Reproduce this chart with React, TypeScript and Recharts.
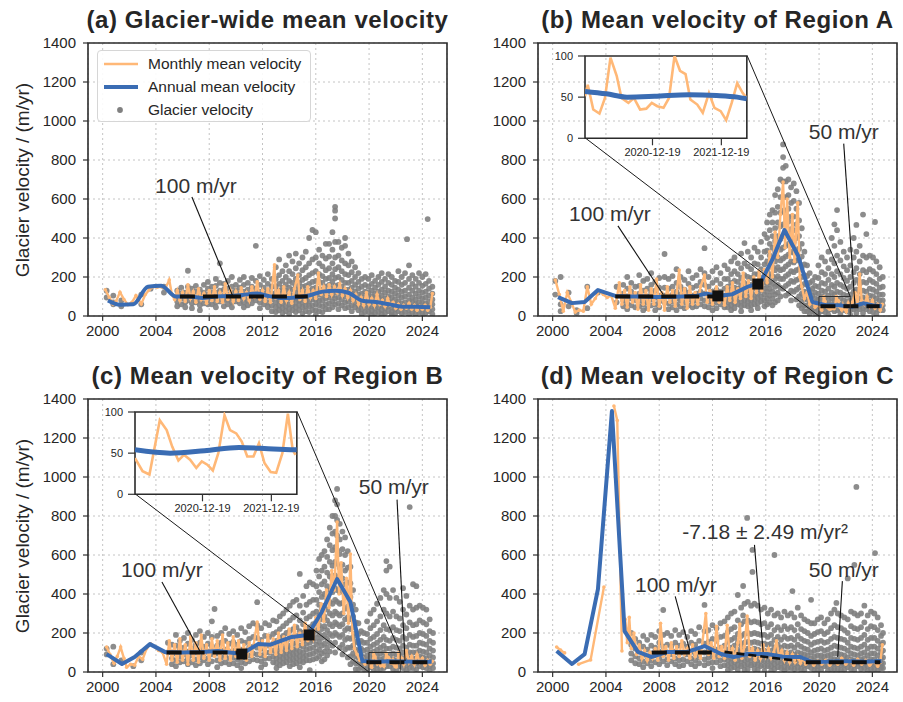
import React from 'react';
import {
  ComposedChart,
  LineChart,
  Line,
  Scatter,
  XAxis,
  YAxis,
  CartesianGrid,
  ReferenceLine,
  ReferenceArea,
  ReferenceDot,
} from 'recharts';

const FONT = '"Liberation Sans", Arial, Helvetica, sans-serif';
const ORANGE = '#ffb877';
const BLUE = '#3a6cb3';
const GRAY = '#808080';
const INK = '#262626';

const X_TICKS = [2000, 2004, 2008, 2012, 2016, 2020, 2024];
const Y_TICKS = [0, 200, 400, 600, 800, 1000, 1200, 1400];
const INSET_TICKS = [2020.97, 2021.97];
const INSET_TICK_LABELS = ['2020-12-19', '2021-12-19'];
const INSET_Y_TICKS = [0, 50, 100];

// main axes
const X0 = 1998.9;
const X1 = 2025.85;
const YMAX = 1400;
// zoomed window shown in the insets
const Z0 = 2019.99;
const Z1 = 2022.34;
const ZMAX = 100;
// where the inset sits, in main-axis data units
const INSET_AT = { t0: 2002.45, t1: 2014.6, v0: 913, v1: 1335 };

// glacier velocity dots: [date, values...]
const GLACIER_A = [
  [2000.3, 130, 95], [2000.8, 70, 105, 60], [2001.4, 50, 80], [2002.9, 110, 60], [2003.6, 140], [2004.6, 150, 120],
  [2005.6, 130, 100, 75, 50], [2005.9, 145, 115, 90, 60], [2006.2, 120, 95, 70, 45], [2006.4, 232, 150, 110, 80],
  [2006.7, 140, 115, 90, 65, 40], [2007.0, 155, 125, 95, 70], [2007.3, 135, 105, 80, 55, 30], [2007.6, 160, 120, 95, 65],
  [2007.9, 175, 140, 110, 85, 60], [2008.2, 150, 120, 90, 60], [2008.5, 190, 155, 120, 95, 70, 45],
  [2008.8, 270, 170, 130, 100, 75], [2009.1, 165, 135, 105, 80, 50], [2009.4, 180, 140, 110, 85, 60],
  [2009.7, 200, 150, 120, 95, 70, 45], [2010.0, 160, 130, 100, 75], [2010.3, 185, 145, 115, 90, 65],
  [2010.6, 200, 160, 125, 95, 70, 45], [2010.9, 170, 135, 105, 80, 55], [2011.2, 195, 150, 120, 90, 65],
  [2011.5, 360, 180, 140, 110, 80], [2011.8, 205, 160, 125, 95, 70, 40], [2012.1, 185, 145, 115, 85, 60],
  [2012.4, 215, 165, 130, 100, 70, 45], [2012.7, 190, 150, 115, 85, 55, 25],
  [2013.0, 250, 190, 150, 120, 95, 70, 45, 20], [2013.25, 290, 210, 165, 130, 105, 80, 55, 30],
  [2013.5, 230, 180, 145, 115, 90, 65, 40, 15], [2013.75, 260, 200, 160, 130, 100, 75, 50, 25],
  [2014.0, 310, 230, 180, 145, 115, 90, 60, 35, 10], [2014.25, 280, 215, 170, 135, 105, 80, 55, 30],
  [2014.5, 320, 245, 190, 150, 120, 95, 70, 45, 20], [2014.75, 270, 210, 170, 135, 105, 80, 55, 30],
  [2015.0, 300, 235, 185, 150, 120, 95, 70, 45, 15], [2015.25, 330, 250, 195, 155, 125, 100, 75, 50, 25],
  [2015.5, 400, 270, 210, 165, 130, 100, 75, 50, 20], [2015.75, 441, 290, 220, 175, 140, 110, 85, 55, 30],
  [2016.0, 430, 300, 230, 180, 145, 115, 85, 60, 30, 5], [2016.25, 340, 270, 215, 175, 140, 110, 80, 55, 25],
  [2016.5, 310, 255, 205, 170, 135, 105, 80, 50, 20], [2016.75, 370, 295, 235, 190, 150, 120, 90, 60, 35],
  [2017.0, 370, 305, 245, 195, 160, 125, 95, 65, 35], [2017.25, 430, 340, 270, 215, 175, 140, 105, 75, 45],
  [2017.45, 560, 540, 500, 380, 300, 240, 195, 155, 120, 90, 60], [2017.7, 380, 310, 250, 200, 160, 125, 95, 65, 35],
  [2017.95, 350, 285, 230, 185, 150, 115, 85, 55], [2018.2, 400, 360, 270, 215, 170, 135, 100, 70, 40],
  [2018.45, 320, 260, 210, 170, 135, 105, 75, 45], [2018.7, 280, 225, 180, 145, 115, 85, 55, 25],
  [2018.95, 250, 200, 160, 125, 95, 70, 45], [2019.2, 220, 175, 140, 110, 80, 55, 30],
  [2019.45, 190, 150, 115, 85, 60, 35, 10], [2019.7, 200, 160, 125, 95, 70, 45, 20],
  [2019.95, 190, 150, 120, 95, 70, 45, 20], [2020.2, 210, 165, 130, 100, 75, 50, 25, 5],
  [2020.45, 180, 145, 115, 90, 65, 40, 15], [2020.7, 200, 160, 125, 95, 70, 45, 20],
  [2020.95, 220, 175, 135, 105, 80, 55, 30, 10], [2021.2, 190, 150, 120, 90, 65, 40, 15],
  [2021.45, 215, 170, 130, 100, 75, 50, 25], [2021.7, 200, 160, 125, 95, 70, 45, 20, 5],
  [2021.95, 180, 145, 115, 85, 60, 35, 10], [2022.2, 230, 175, 135, 105, 75, 50, 25],
  [2022.45, 200, 160, 125, 95, 65, 40, 15], [2022.7, 220, 170, 130, 100, 70, 45, 20], [2022.85, 394],
  [2023.0, 260, 190, 145, 110, 80, 55, 30, 5], [2023.25, 210, 165, 130, 95, 70, 45, 20],
  [2023.5, 190, 150, 115, 85, 60, 35, 10], [2023.75, 220, 170, 130, 100, 70, 45, 20],
  [2024.0, 200, 155, 120, 90, 65, 40, 15], [2024.25, 215, 165, 125, 95, 65, 40, 15], [2024.4, 497],
  [2024.5, 180, 140, 105, 75, 50, 25], [2024.75, 150, 115, 85, 60, 35, 10],
];

const GLACIER_B = [
  [2000.2, 180, 110], [2000.6, 200, 60, 25], [2001.2, 120, 50], [2001.8, 30, 15], [2002.6, 150, 40], [2003.4, 120],
  [2004.8, 150, 70], [2005.3, 160, 115, 80, 50], [2005.6, 200, 140, 100, 65, 35], [2005.9, 170, 125, 90, 55],
  [2006.2, 150, 110, 80, 45], [2006.5, 210, 155, 115, 80, 50], [2006.8, 180, 130, 95, 60, 30],
  [2007.1, 190, 140, 100, 70, 40], [2007.4, 220, 160, 120, 85, 55], [2007.7, 175, 130, 95, 60, 30],
  [2008.0, 195, 145, 105, 75, 45], [2008.4, 318, 200, 145, 105, 70], [2008.7, 190, 140, 100, 65, 35],
  [2009.0, 205, 150, 110, 75, 45], [2009.3, 240, 170, 125, 90, 60, 30], [2009.6, 200, 150, 110, 80, 50],
  [2009.9, 185, 135, 100, 70, 40], [2010.2, 230, 165, 120, 85, 55], [2010.5, 195, 145, 105, 75, 45],
  [2010.8, 210, 155, 115, 80, 50], [2011.1, 240, 175, 125, 90, 60], [2011.4, 348, 220, 160, 115, 80, 50],
  [2011.7, 200, 150, 110, 75, 45], [2012.0, 230, 170, 125, 90, 60, 30], [2012.3, 250, 185, 135, 100, 70, 40],
  [2012.6, 220, 165, 125, 90, 60], [2012.9, 260, 190, 140, 105, 75, 45],
  [2013.15, 240, 190, 150, 120, 95, 70, 45], [2013.4, 280, 215, 170, 135, 105, 80, 55, 30],
  [2013.65, 300, 230, 180, 145, 115, 90, 65, 40], [2013.9, 270, 215, 175, 140, 110, 85, 60],
  [2014.15, 320, 245, 195, 155, 125, 100, 75, 50, 25], [2014.4, 374, 270, 210, 170, 135, 105, 80, 55],
  [2014.65, 330, 255, 200, 160, 130, 100, 75, 50], [2014.9, 300, 240, 195, 160, 130, 105, 80, 55, 30],
  [2015.15, 350, 270, 215, 175, 140, 110, 85, 60], [2015.4, 330, 265, 215, 175, 145, 115, 90, 65, 40],
  [2015.65, 380, 300, 240, 195, 160, 130, 100, 75], [2015.9, 420, 330, 265, 215, 175, 140, 110, 80, 50],
  [2016.1, 480, 400, 335, 280, 235, 195, 160, 125, 90, 60], [2016.3, 520, 440, 370, 310, 260, 215, 175, 140, 105, 70],
  [2016.5, 543, 480, 410, 350, 295, 250, 205, 165, 125, 90, 55],
  [2016.7, 620, 530, 450, 385, 330, 280, 235, 190, 150, 110, 70],
  [2016.9, 650, 560, 480, 410, 350, 300, 250, 205, 160, 120, 80],
  [2017.1, 700, 610, 530, 460, 395, 340, 285, 235, 190, 145, 100],
  [2017.3, 880, 815, 760, 690, 610, 540, 470, 410, 350, 295, 240, 190, 140],
  [2017.5, 770, 690, 610, 540, 475, 415, 360, 305, 255, 205, 155, 105],
  [2017.7, 700, 620, 550, 485, 425, 370, 315, 265, 215, 165, 115],
  [2017.9, 660, 580, 510, 445, 385, 330, 280, 230, 180, 130, 80],
  [2018.1, 680, 590, 510, 440, 380, 325, 275, 225, 175, 125],
  [2018.3, 640, 550, 470, 400, 340, 285, 235, 185, 135, 85],
  [2018.5, 580, 490, 410, 345, 290, 240, 190, 145, 100, 55], [2018.7, 450, 370, 305, 250, 200, 155, 115, 75, 40],
  [2018.9, 330, 265, 210, 165, 125, 90, 55, 25], [2019.1, 260, 205, 160, 120, 85, 55, 25],
  [2019.3, 220, 170, 130, 95, 65, 35, 10], [2019.5, 180, 140, 105, 75, 50, 25],
  [2019.7, 200, 155, 120, 90, 65, 40, 15], [2019.95, 260, 195, 150, 115, 85, 60, 35, 10],
  [2020.2, 300, 225, 170, 130, 100, 75, 50, 25], [2020.45, 280, 215, 165, 125, 95, 70, 45, 20],
  [2020.7, 330, 245, 185, 140, 105, 80, 55, 30, 5], [2020.95, 400, 290, 215, 160, 120, 90, 60, 35],
  [2021.15, 470, 360, 270, 200, 150, 110, 80, 50, 25], [2021.35, 543, 440, 310, 230, 170, 125, 90, 60, 30],
  [2021.6, 380, 285, 215, 160, 120, 90, 60, 35, 10], [2021.85, 330, 255, 195, 150, 110, 80, 55, 30],
  [2022.1, 300, 235, 180, 140, 105, 75, 50, 25], [2022.35, 340, 260, 200, 150, 110, 80, 55, 30, 5],
  [2022.6, 400, 300, 225, 170, 125, 90, 60, 35], [2022.8, 467, 330, 245, 185, 135, 95, 65, 40, 15],
  [2023.05, 360, 280, 215, 165, 125, 90, 60, 35], [2023.3, 520, 310, 235, 175, 130, 95, 65, 40, 15],
  [2023.55, 420, 300, 225, 170, 125, 90, 60, 35], [2023.8, 310, 240, 185, 140, 105, 75, 50, 25],
  [2024.05, 300, 230, 175, 135, 100, 70, 45, 20], [2024.2, 482], [2024.3, 280, 215, 165, 125, 90, 60, 35, 10],
  [2024.55, 250, 190, 145, 110, 80, 55, 30], [2024.78, 200, 150, 110, 80, 55, 30],
];

const GLACIER_C = [
  [2000.3, 120, 90], [2000.8, 130, 40], [2001.4, 60], [2002.3, 30], [2002.9, 100, 60], [2004.9, 150, 100],
  [2005.2, 140, 100, 70, 40], [2005.5, 190, 135, 95, 60, 30], [2005.8, 160, 115, 80, 50], [2006.1, 175, 125, 90, 55],
  [2006.4, 200, 145, 105, 70, 40], [2006.7, 165, 120, 85, 50], [2007.0, 190, 140, 100, 65, 35],
  [2007.3, 210, 150, 110, 75, 45], [2007.6, 180, 130, 95, 60], [2007.9, 200, 145, 105, 70, 40],
  [2008.2, 260, 180, 130, 90, 55], [2008.4, 323], [2008.6, 185, 135, 95, 60, 25], [2008.9, 200, 150, 110, 75, 45],
  [2009.2, 225, 160, 115, 80, 50], [2009.5, 195, 145, 105, 70, 40], [2009.8, 210, 155, 110, 75, 45],
  [2010.1, 190, 140, 100, 65, 35], [2010.4, 225, 160, 115, 80, 50, 20], [2010.7, 205, 150, 110, 75, 45],
  [2011.0, 235, 170, 125, 85, 55], [2011.3, 250, 180, 130, 95, 65], [2011.6, 358, 240, 175, 125, 90, 60],
  [2011.9, 225, 165, 120, 85, 55, 25], [2012.2, 250, 185, 135, 100, 70, 40], [2012.5, 240, 180, 135, 100, 70],
  [2012.8, 265, 195, 145, 110, 80, 50], [2013.05, 260, 205, 160, 125, 95, 70, 45, 20],
  [2013.3, 285, 220, 175, 140, 110, 85, 60, 35], [2013.55, 300, 235, 185, 150, 120, 95, 70, 45],
  [2013.8, 320, 250, 200, 160, 130, 100, 75, 50], [2014.05, 340, 265, 210, 170, 135, 110, 85, 60, 30],
  [2014.3, 360, 280, 220, 180, 145, 115, 90, 65, 40], [2014.55, 370, 290, 230, 185, 150, 120, 95, 70, 45],
  [2014.8, 503, 340, 265, 210, 170, 135, 105, 80, 55, 25], [2015.05, 390, 305, 245, 200, 160, 130, 100, 75, 50],
  [2015.3, 440, 345, 275, 220, 180, 145, 115, 85, 60], [2015.55, 460, 360, 285, 230, 185, 150, 120, 90, 60, 10],
  [2015.8, 450, 370, 300, 245, 200, 160, 125, 95, 65], [2016.05, 520, 440, 370, 310, 260, 215, 175, 140, 105, 70],
  [2016.25, 580, 490, 410, 345, 290, 240, 195, 155, 115, 80],
  [2016.45, 600, 520, 450, 385, 325, 270, 220, 175, 135, 95, 55],
  [2016.65, 620, 540, 465, 400, 340, 285, 235, 190, 145, 105, 65],
  [2016.85, 680, 590, 510, 440, 375, 320, 265, 215, 170, 125, 85],
  [2017.05, 740, 650, 565, 490, 420, 360, 300, 245, 195, 150, 105],
  [2017.25, 800, 710, 625, 545, 475, 410, 350, 290, 235, 185, 135],
  [2017.45, 880, 800, 720, 640, 565, 495, 430, 370, 310, 255, 200, 150, 100],
  [2017.6, 939, 860, 780, 700, 625, 555, 485, 420, 360, 300, 245, 190],
  [2017.8, 760, 680, 605, 535, 470, 410, 350, 290, 235, 180, 125],
  [2018.0, 720, 630, 550, 480, 415, 355, 300, 245, 190, 140, 90],
  [2018.2, 690, 600, 520, 450, 385, 325, 270, 215, 165, 115],
  [2018.4, 620, 535, 460, 395, 335, 280, 225, 175, 125, 75],
  [2018.6, 540, 455, 385, 325, 270, 220, 170, 125, 80, 40], [2018.8, 420, 345, 285, 230, 180, 135, 95, 55],
  [2019.0, 320, 255, 200, 155, 115, 80, 45, 15], [2019.2, 250, 195, 150, 110, 75, 45, 15],
  [2019.4, 210, 160, 120, 85, 55, 25], [2019.6, 200, 150, 110, 75, 45, 15],
  [2019.85, 260, 195, 150, 115, 85, 60, 35, 10], [2020.1, 300, 225, 170, 130, 100, 75, 50, 25],
  [2020.35, 320, 240, 180, 140, 105, 80, 55, 30, 5], [2020.6, 350, 260, 195, 150, 115, 85, 60, 35, 10],
  [2020.85, 380, 285, 215, 165, 125, 95, 65, 40, 15], [2021.1, 420, 320, 240, 180, 135, 100, 70, 45, 20],
  [2021.3, 569, 520, 400, 300, 220, 165, 120, 85, 55, 30], [2021.55, 540, 380, 285, 215, 160, 120, 85, 55, 30],
  [2021.8, 420, 310, 230, 175, 130, 95, 65, 40, 15], [2022.05, 380, 285, 215, 165, 125, 90, 60, 35, 10],
  [2022.3, 360, 275, 210, 160, 120, 85, 55, 30], [2022.55, 430, 320, 240, 180, 135, 100, 70, 45, 20],
  [2022.8, 390, 295, 225, 170, 125, 90, 60, 35, 10], [2023.05, 846, 340, 255, 190, 140, 100, 70, 45, 20],
  [2023.3, 450, 320, 240, 180, 135, 100, 70, 45, 20], [2023.55, 440, 330, 245, 185, 135, 100, 70, 45, 15],
  [2023.8, 340, 265, 200, 150, 110, 80, 55, 30], [2024.05, 330, 255, 195, 145, 105, 75, 50, 25],
  [2024.3, 320, 245, 185, 140, 100, 70, 45, 20], [2024.55, 270, 210, 160, 120, 85, 55, 30, 5],
  [2024.8, 200, 150, 110, 75, 45, 20],
];

const GLACIER_D = [
  [2005.9, 200, 140, 95, 60], [2006.2, 170, 120, 80, 45], [2006.5, 150, 105, 70, 40], [2006.8, 185, 130, 90, 55, 25],
  [2007.1, 165, 115, 80, 45], [2007.4, 190, 135, 95, 60, 30], [2007.7, 180, 125, 85, 50],
  [2008.0, 210, 150, 105, 70, 40], [2008.3, 318, 190, 130, 90, 55], [2008.6, 200, 140, 100, 65, 35],
  [2008.9, 185, 130, 90, 55], [2009.2, 215, 150, 105, 70, 40], [2009.5, 190, 135, 95, 60, 30],
  [2009.8, 205, 145, 100, 65, 35], [2010.1, 180, 130, 90, 55], [2010.4, 210, 150, 105, 70, 40],
  [2010.7, 195, 140, 95, 60, 30], [2011.0, 230, 160, 110, 75, 45], [2011.4, 344, 210, 145, 100, 65, 35],
  [2011.7, 215, 155, 110, 75, 45], [2012.0, 240, 170, 120, 80, 50, 20], [2012.3, 225, 160, 115, 80, 50],
  [2012.6, 250, 180, 125, 90, 60, 30], [2012.9, 260, 185, 135, 95, 65, 35],
  [2013.15, 280, 205, 155, 115, 85, 60, 35, 10], [2013.4, 300, 220, 165, 125, 95, 70, 45, 20],
  [2013.65, 310, 230, 175, 135, 100, 75, 50, 25], [2013.9, 395, 265, 195, 150, 115, 85, 60, 35, 10],
  [2014.15, 330, 245, 185, 140, 105, 80, 55, 30], [2014.3, 441, 290], [2014.4, 350, 260, 195, 150, 115, 85, 60, 35, 10],
  [2014.6, 790], [2014.65, 360, 265, 200, 155, 120, 90, 65, 40, 15], [2014.9, 340, 255, 195, 150, 115, 85, 60, 35],
  [2015.0, 626, 513], [2015.15, 350, 260, 200, 155, 120, 90, 65, 40, 15],
  [2015.4, 340, 255, 195, 150, 115, 85, 60, 35, 10], [2015.65, 320, 245, 190, 145, 110, 80, 55, 30],
  [2015.9, 330, 250, 190, 145, 110, 80, 55, 30, 5], [2016.15, 300, 230, 180, 140, 105, 80, 55, 30],
  [2016.4, 320, 245, 190, 145, 110, 80, 55, 30, 5], [2016.65, 600, 290, 215, 165, 125, 90, 65, 40, 15],
  [2016.9, 300, 230, 180, 140, 105, 75, 50, 25], [2017.15, 280, 215, 165, 125, 95, 70, 45, 20],
  [2017.4, 310, 235, 180, 135, 100, 75, 50, 25, 5], [2017.65, 290, 220, 170, 130, 95, 70, 45, 20],
  [2017.9, 300, 230, 175, 135, 100, 70, 45, 20], [2018.0, 415], [2018.15, 280, 215, 165, 125, 90, 65, 40, 15],
  [2018.4, 330, 245, 185, 140, 100, 70, 45, 20], [2018.65, 290, 220, 170, 130, 95, 65, 40, 15],
  [2018.9, 270, 210, 160, 120, 90, 60, 35, 10], [2019.15, 260, 200, 155, 115, 85, 55, 30],
  [2019.4, 370, 250, 185, 140, 100, 70, 45, 20], [2019.65, 250, 195, 150, 110, 80, 55, 30, 5],
  [2019.9, 270, 205, 155, 115, 85, 55, 30, 10], [2020.15, 280, 210, 160, 120, 85, 60, 35, 10],
  [2020.4, 250, 195, 150, 110, 80, 55, 30], [2020.65, 270, 205, 155, 115, 85, 55, 30, 5],
  [2020.9, 300, 225, 170, 125, 90, 65, 40, 15], [2021.15, 320, 240, 180, 135, 95, 65, 40, 15], [2021.3, 354],
  [2021.4, 300, 230, 175, 130, 95, 65, 40, 15], [2021.65, 290, 225, 170, 125, 90, 60, 35, 10],
  [2021.9, 280, 215, 165, 120, 85, 60, 35, 10], [2022.15, 480, 270, 200, 150, 110, 75, 50, 25],
  [2022.4, 310, 235, 175, 130, 95, 65, 40, 15], [2022.65, 549, 300, 225, 170, 125, 90, 60, 35, 10], [2022.8, 949],
  [2022.9, 290, 220, 165, 120, 85, 55, 30], [2023.15, 300, 230, 175, 130, 95, 65, 40, 15],
  [2023.4, 340, 255, 190, 140, 100, 70, 45, 20], [2023.65, 290, 220, 165, 120, 85, 55, 30, 5],
  [2023.9, 310, 235, 175, 130, 95, 65, 40, 15], [2024.15, 300, 230, 175, 130, 95, 65, 40, 15], [2024.2, 610],
  [2024.4, 280, 215, 160, 120, 85, 55, 30, 5], [2024.65, 240, 185, 140, 100, 70, 45, 20],
  [2024.8, 200, 150, 110, 75, 45, 20],
];

// monthly mean velocity: [date, value]
const MONTHLY_A = [
  [2000.2, 135], [2000.5, 95], [2000.8, 60], [2001.0, 75], [2001.3, 122], [2001.6, 85], [2001.9, 58], [2002.2, 70],
  [2002.5, 105], [2002.9, 62], [2003.2, 110], [2003.5, 135], [2003.8, 150], [2004.1, 148], [2004.4, 150], [2004.7, 140],
  [2005.0, 185], [2005.2, 110], [2005.4, 85], [2005.6, 130], [2005.8, 80], [2006.0, 120], [2006.2, 75], [2006.4, 160],
  [2006.6, 90], [2006.8, 125], [2007.0, 70], [2007.2, 140], [2007.4, 85], [2007.6, 115], [2007.8, 65], [2008.0, 130],
  [2008.2, 80], [2008.4, 150], [2008.6, 75], [2008.8, 120], [2009.0, 70], [2009.2, 165], [2009.4, 85], [2009.6, 130],
  [2009.8, 75], [2010.0, 125], [2010.2, 80], [2010.4, 145], [2010.6, 90], [2010.8, 120], [2011.0, 80], [2011.2, 150],
  [2011.4, 95], [2011.6, 175], [2011.8, 85], [2012.0, 130], [2012.2, 75], [2012.4, 140], [2012.6, 70], [2012.9, 262],
  [2013.0, 90], [2013.2, 130], [2013.4, 70], [2013.6, 150], [2013.8, 80], [2014.0, 120], [2014.2, 65], [2014.4, 140],
  [2014.65, 210], [2014.8, 85], [2015.0, 130], [2015.2, 75], [2015.4, 150], [2015.6, 95], [2015.8, 130], [2016.0, 90],
  [2016.2, 220], [2016.4, 110], [2016.6, 150], [2016.8, 100], [2017.0, 160], [2017.2, 110], [2017.4, 150], [2017.6, 120],
  [2017.8, 165], [2018.0, 105], [2018.2, 140], [2018.4, 95], [2018.6, 130], [2018.8, 80], [2019.0, 110], [2019.2, 60],
  [2019.4, 95], [2019.6, 55], [2019.8, 120], [2020.0, 60], [2020.2, 90], [2020.4, 55], [2020.6, 110], [2020.8, 60],
  [2021.0, 80], [2021.2, 50], [2021.4, 90], [2021.6, 55], [2021.8, 70], [2022.0, 40], [2022.2, 60], [2022.4, 35],
  [2022.6, 55], [2022.8, 40], [2023.0, 65], [2023.2, 35], [2023.4, 55], [2023.6, 30], [2023.8, 50], [2024.0, 35],
  [2024.2, 55], [2024.4, 30], [2024.6, 45], [2024.75, 115],
];

const MONTHLY_B_EARLY = [
  [2000.2, 185], [2000.5, 110], [2000.8, 25], [2001.1, 120], [2001.4, 70], [2001.7, 20], [2002.0, 30], [2002.3, 25],
  [2002.6, 150], [2002.9, 60], [2003.2, 90], [2003.5, 130], [2003.8, 110], [2004.1, 95], [2004.4, 105], [2004.7, 40],
  [2005.0, 170], [2005.2, 60], [2005.4, 130], [2005.6, 45], [2005.8, 150], [2006.0, 70], [2006.2, 120], [2006.4, 35],
  [2006.6, 160], [2006.8, 60], [2007.0, 130], [2007.2, 30], [2007.4, 140], [2007.6, 60], [2007.8, 190], [2008.0, 50],
  [2008.2, 120], [2008.4, 30], [2008.6, 150], [2008.8, 70], [2009.0, 130], [2009.2, 50], [2009.5, 236], [2009.7, 60],
  [2009.9, 140], [2010.1, 40], [2010.3, 150], [2010.5, 60], [2010.7, 120], [2010.9, 60], [2011.1, 150], [2011.4, 210],
  [2011.6, 70], [2011.8, 130], [2012.0, 60], [2012.3, 150], [2012.5, 70], [2012.7, 120], [2012.9, 55], [2013.1, 150],
  [2013.3, 80], [2013.5, 170], [2013.7, 70], [2013.9, 140], [2014.1, 90], [2014.3, 220], [2014.5, 100], [2014.7, 180],
  [2014.9, 90], [2015.1, 200], [2015.3, 120], [2015.5, 230], [2015.7, 130], [2015.9, 240], [2016.1, 170], [2016.3, 330],
  [2016.5, 200], [2016.7, 430], [2016.9, 300], [2017.1, 520], [2017.3, 687], [2017.45, 350], [2017.6, 600], [2017.8, 300],
  [2018.0, 520], [2018.15, 280], [2018.4, 580], [2018.55, 200], [2018.7, 150], [2018.9, 90], [2019.1, 120], [2019.3, 60],
  [2019.5, 80], [2019.7, 45], [2019.9, 60],
];
const INSET_B_MONTHLY = [
  [2019.99, 51], [2020.03, 65], [2020.11, 35], [2020.2, 30], [2020.28, 49], [2020.36, 98], [2020.45, 76], [2020.52, 49],
  [2020.62, 43], [2020.7, 49], [2020.79, 35], [2020.88, 36], [2020.96, 43], [2021.04, 39], [2021.13, 37], [2021.21, 49],
  [2021.29, 100], [2021.37, 82], [2021.45, 78], [2021.52, 47], [2021.62, 41], [2021.7, 31], [2021.79, 55], [2021.87, 37],
  [2021.96, 33], [2022.04, 22], [2022.12, 43], [2022.2, 67], [2022.28, 55], [2022.33, 50],
];
const MONTHLY_B_LATE = [
  [2022.5, 70], [2022.7, 120], [2022.9, 60], [2023.05, 215], [2023.2, 80], [2023.4, 60], [2023.6, 100], [2023.8, 50],
  [2024.0, 80], [2024.2, 40], [2024.4, 60], [2024.6, 30], [2024.75, 60],
];
const INSET_B_ANNUAL = [
  [2019.99, 57], [2020.3, 54], [2020.6, 50], [2021.0, 51], [2021.5, 53], [2021.9, 52], [2022.2, 50], [2022.34, 48],
];

const MONTHLY_C_EARLY = [
  [2000.3, 128], [2000.55, 90], [2000.85, 45], [2001.1, 80], [2001.35, 128], [2001.6, 70], [2001.8, 25], [2002.1, 40],
  [2002.4, 35], [2002.7, 80], [2003.0, 65], [2003.3, 120], [2003.6, 145], [2003.9, 130], [2004.2, 110], [2004.5, 100],
  [2004.8, 40], [2005.0, 160], [2005.2, 60], [2005.4, 140], [2005.6, 50], [2005.8, 170], [2006.0, 60], [2006.2, 140],
  [2006.4, 40], [2006.6, 180], [2006.8, 60], [2007.0, 150], [2007.2, 50], [2007.4, 190], [2007.6, 70], [2007.8, 140],
  [2008.0, 60], [2008.2, 170], [2008.4, 80], [2008.6, 160], [2008.8, 60], [2009.0, 190], [2009.2, 70], [2009.4, 150],
  [2009.6, 60], [2009.8, 180], [2010.0, 80], [2010.2, 160], [2010.4, 70], [2010.6, 140], [2010.8, 60], [2011.0, 150],
  [2011.2, 80], [2011.6, 256], [2011.8, 90], [2012.0, 160], [2012.2, 80], [2012.4, 190], [2012.6, 100], [2012.8, 170],
  [2013.0, 90], [2013.2, 200], [2013.4, 100], [2013.6, 180], [2013.8, 110], [2014.0, 220], [2014.2, 120], [2014.4, 240],
  [2014.6, 130], [2014.8, 200], [2015.0, 140], [2015.2, 250], [2015.4, 160], [2015.6, 200], [2015.8, 170], [2016.0, 280],
  [2016.2, 220], [2016.4, 350], [2016.6, 260], [2016.8, 420], [2017.0, 330], [2017.2, 520], [2017.4, 420], [2017.6, 769],
  [2017.75, 400], [2017.9, 560], [2018.1, 300], [2018.3, 480], [2018.45, 250], [2018.6, 605], [2018.75, 200],
  [2018.9, 120], [2019.1, 90], [2019.3, 60], [2019.5, 75], [2019.7, 40], [2019.9, 50],
];
const INSET_C_MONTHLY = [
  [2019.99, 44], [2020.1, 28], [2020.2, 24], [2020.35, 90], [2020.45, 78], [2020.53, 58], [2020.62, 41], [2020.7, 48],
  [2020.79, 42], [2020.88, 32], [2020.96, 40], [2021.04, 36], [2021.12, 29], [2021.2, 50], [2021.29, 96], [2021.37, 78],
  [2021.46, 74], [2021.54, 64], [2021.62, 46], [2021.71, 46], [2021.79, 62], [2021.87, 38], [2021.96, 27], [2022.04, 26],
  [2022.13, 50], [2022.21, 98], [2022.28, 54], [2022.32, 48],
];
const MONTHLY_C_LATE = [
  [2022.45, 70], [2022.6, 40], [2022.8, 110], [2023.0, 50], [2023.2, 80], [2023.4, 40], [2023.6, 90], [2023.8, 50],
  [2024.0, 70], [2024.2, 35], [2024.4, 60], [2024.6, 40], [2024.75, 55],
];
const INSET_C_ANNUAL = [
  [2019.99, 54], [2020.5, 50], [2021.0, 53], [2021.5, 57], [2022.0, 55], [2022.34, 54],
];

const MONTHLY_D = [
  [2000.3, 128], [2000.6, 112], [2000.9, 98], [2001.4, null], [2001.95, 40], [2002.85, 62], [2003.85, 436],
  [2004.2, null], [2004.6, 1364], [2004.85, 1290], [2005.2, 108], [2005.3, null], [2005.45, 270], [2005.6, 150],
  [2005.75, 280], [2005.9, 120], [2006.1, 200], [2006.3, 90], [2006.5, 140], [2006.7, 70], [2006.9, 110], [2007.1, 60],
  [2007.3, 100], [2007.5, 70], [2007.7, 120], [2007.9, 60], [2008.1, 250], [2008.3, 80], [2008.5, 130], [2008.7, 60],
  [2008.9, 150], [2009.1, 70], [2009.3, 130], [2009.5, 80], [2009.7, 160], [2009.9, 90], [2010.1, 120], [2010.3, 70],
  [2010.5, 140], [2010.7, 80], [2010.9, 110], [2011.1, 70], [2011.5, 300], [2011.7, 90], [2011.9, 150], [2012.1, 70],
  [2012.3, 235], [2012.5, 80], [2012.7, 130], [2012.9, 70], [2013.1, 240], [2013.3, 80], [2013.5, 120], [2013.7, 60],
  [2013.9, 150], [2014.05, 246], [2014.2, 70], [2014.4, 130], [2014.6, 287], [2014.8, 80], [2015.0, 120], [2015.2, 60],
  [2015.4, 110], [2015.6, 70], [2015.8, 140], [2016.0, 80], [2016.2, 120], [2016.4, 70], [2016.6, 100], [2016.8, 160],
  [2017.0, 80], [2017.2, 110], [2017.4, 60], [2017.6, 100], [2017.8, 50], [2018.0, 90], [2018.2, 50], [2018.4, 80],
  [2018.6, 45], [2018.8, 70], [2019.0, 40], [2019.3, 60], [2019.6, 35], [2019.9, 55], [2020.2, 40], [2020.5, 60],
  [2020.8, 35], [2021.1, 55], [2021.4, 40], [2021.7, 70], [2022.0, 40], [2022.3, 60], [2022.6, 35], [2022.9, 65],
  [2023.2, 40], [2023.5, 60], [2023.8, 35], [2024.1, 55], [2024.4, 30], [2024.6, 50], [2024.75, 140],
];

// annual mean velocity
const ANNUAL_A = [
  [2000.4, 80], [2001.3, 58], [2002.3, 60], [2003.4, 150], [2004.4, 155], [2005.5, 100], [2006.5, 100], [2007.5, 92],
  [2008.5, 100], [2009.5, 102], [2010.5, 108], [2011.5, 115], [2012.5, 102], [2013.5, 92], [2014.5, 95], [2015.5, 105],
  [2016.5, 125], [2017.5, 130], [2018.5, 118], [2019.5, 78], [2020.5, 72], [2021.5, 60], [2022.5, 48], [2023.5, 48],
  [2024.6, 45],
];
const ANNUAL_B = [
  [2000.4, 97], [2001.45, 66], [2002.4, 72], [2003.4, 133], [2004.7, 103], [2005.7, 100], [2006.7, 100], [2007.7, 98],
  [2008.7, 97], [2009.7, 100], [2010.7, 102], [2011.5, 115], [2012.4, 103], [2013.5, 112], [2014.6, 149], [2015.6, 170],
  [2016.5, 290], [2017.4, 441], [2018.4, 313], [2019.5, 72], [2020.5, 55], [2021.5, 55], [2022.5, 48], [2023.3, 65],
  [2024.0, 55], [2024.7, 50],
];
const ANNUAL_C = [
  [2000.3, 92], [2001.45, 41], [2002.4, 77], [2003.55, 143], [2004.7, 102], [2005.9, 100], [2007.45, 102],
  [2008.65, 108], [2010.45, 92], [2011.65, 143], [2012.6, 140], [2014.2, 180], [2015.4, 190], [2016.45, 308],
  [2017.6, 477], [2018.6, 359], [2019.5, 56], [2020.5, 52], [2021.5, 55], [2022.5, 54], [2023.5, 53], [2024.7, 52],
];
const ANNUAL_D = [
  [2000.3, 108], [2001.45, 41], [2002.4, 92], [2003.4, 425], [2004.45, 1338], [2005.4, 210], [2006.4, 103],
  [2007.4, 77], [2008.6, 103], [2010.1, 103], [2011.4, 133], [2012.65, 92], [2013.6, 77], [2014.6, 92], [2016.1, 92],
  [2017.4, 77], [2018.6, 77], [2019.5, 51], [2020.5, 52], [2021.5, 55], [2022.5, 55], [2023.5, 52], [2024.7, 57],
];

// constant-velocity periods: [start, value, end, value]
const DASH_A = [[2005.8, 100, 2015.4, 100]];
const DASH_B = [[2004.7, 100, 2012.4, 100], [2020.1, 50, 2024.55, 50]];
const DASH_C = [[2004.8, 100, 2010.45, 100], [2019.8, 50, 2024.55, 50]];
const DASH_D = [[2007.45, 100, 2011.95, 100], [2019.0, 50, 2024.6, 50]];
const TREND_D = [[2012.9, 103, 2018.3, 58]];

// breakpoints
const BREAKS_B = [[2012.4, 103], [2015.4, 164]];
const BREAKS_C = [[2010.45, 92], [2015.5, 190]];

// annotations: text, text centre, arrow start, arrow end
const NOTES_A = [{ text: '100 m/yr', at: [2007.0, 667], from: [2006.7, 610], to: [2009.8, 97] }];
const NOTES_B = [
  { text: '100 m/yr', at: [2004.3, 528], from: [2004.9, 462], to: [2008.3, 110] },
  { text: '50 m/yr', at: [2021.85, 944], from: [2021.85, 884], to: [2022.7, 48] },
];
const NOTES_C = [
  { text: '100 m/yr', at: [2004.45, 528], from: [2004.45, 462], to: [2007.3, 108] },
  { text: '50 m/yr', at: [2021.85, 949], from: [2022.1, 884], to: [2022.7, 56] },
];
const NOTES_D = [
  { text: '100 m/yr', at: [2009.25, 451], from: [2009.2, 388], to: [2010.3, 108] },
  { text: '-7.18 ± 2.49 m/yr²', at: [2015.95, 718], from: [2015.15, 652], to: [2015.8, 103] },
  { text: '50 m/yr', at: [2021.85, 528], from: [2021.75, 466], to: [2021.4, 77] },
];

const cols = (rows: number[][]) => rows.flatMap(([t, ...vs]) => vs.map((v) => ({ t, v })));
const pts = (rows: (number | null)[][]) => rows.map(([t, v]) => ({ t: t as number, v }));

// chart geometry
const W = 450;
const H = 340;
const MARGIN = { top: 43, right: 3, bottom: 2, left: 38 };
const YAXIS_W = 50;
const XAXIS_H = 22;
const PL = MARGIN.left + YAXIS_W;
const PR = W - MARGIN.right;
const PT = MARGIN.top;
const PB = H - MARGIN.bottom - XAXIS_H;
const toPx = (t: number) => PL + ((t - X0) / (X1 - X0)) * (PR - PL);
const toPy = (v: number) => PT + (1 - v / YMAX) * (PB - PT);

const PANELS = [
  {
    key: 'a', left: 0, top: 0, title: '(a) Glacier-wide mean velocity',
    glacier: cols(GLACIER_A), monthly: pts(MONTHLY_A), annual: pts(ANNUAL_A), smooth: true,
    dashes: DASH_A, trends: [], breaks: [], notes: NOTES_A, yLabel: true, legend: true, inset: null,
  },
  {
    key: 'b', left: 450, top: 0, title: '(b) Mean velocity of Region A',
    glacier: cols(GLACIER_B), monthly: pts([...MONTHLY_B_EARLY, ...INSET_B_MONTHLY, ...MONTHLY_B_LATE]),
    annual: pts(ANNUAL_B), smooth: false, dashes: DASH_B, trends: [], breaks: BREAKS_B, notes: NOTES_B,
    yLabel: false, legend: false, inset: { monthly: pts(INSET_B_MONTHLY), annual: pts(INSET_B_ANNUAL) },
  },
  {
    key: 'c', left: 0, top: 356, title: '(c) Mean velocity of Region B',
    glacier: cols(GLACIER_C), monthly: pts([...MONTHLY_C_EARLY, ...INSET_C_MONTHLY, ...MONTHLY_C_LATE]),
    annual: pts(ANNUAL_C), smooth: false, dashes: DASH_C, trends: [], breaks: BREAKS_C, notes: NOTES_C,
    yLabel: true, legend: false, inset: { monthly: pts(INSET_C_MONTHLY), annual: pts(INSET_C_ANNUAL) },
  },
  {
    key: 'd', left: 450, top: 356, title: '(d) Mean velocity of Region C',
    glacier: cols(GLACIER_D), monthly: pts(MONTHLY_D), annual: pts(ANNUAL_D), smooth: false,
    dashes: DASH_D, trends: TREND_D, breaks: [], notes: NOTES_D, yLabel: false, legend: false, inset: null,
  },
];

const tickStyle = { fontSize: 15, fill: INK, fontFamily: FONT };
const tickLine = { stroke: '#333', strokeWidth: 1.2 };

const renderDot = (p: any) => <circle cx={p.cx} cy={p.cy} r={2.9} fill={GRAY} fillOpacity={0.9} />;
const renderSquare = (p: any) => <rect x={p.cx - 5.5} y={p.cy - 5.5} width={11} height={11} fill="#111" />;

// one transparent chart per drawing layer, all sharing the same axes and plot area
function Layer({ axes, children }: { axes?: boolean; children?: React.ReactNode }) {
  return (
    <div style={{ position: 'absolute', left: 0, top: 0 }}>
      <ComposedChart width={W} height={H} margin={MARGIN}>
        {axes && <CartesianGrid stroke="#bdbdbd" strokeDasharray="2 3" strokeWidth={0.9} />}
        <XAxis
          type="number"
          dataKey="t"
          domain={[X0, X1]}
          ticks={X_TICKS}
          interval={0}
          allowDataOverflow
          axisLine={false}
          tickLine={axes ? tickLine : false}
          tickSize={5}
          tickMargin={4}
          height={XAXIS_H}
          tick={axes ? tickStyle : false}
        />
        <YAxis
          type="number"
          dataKey="v"
          domain={[0, YMAX]}
          ticks={Y_TICKS}
          interval={0}
          allowDataOverflow
          axisLine={false}
          tickLine={axes ? tickLine : false}
          tickSize={5}
          tickMargin={7}
          width={YAXIS_W}
          tick={axes ? tickStyle : false}
        />
        {children}
      </ComposedChart>
    </div>
  );
}

function Inset({ data }: { data: any }) {
  const bl = toPx(INSET_AT.t0);
  const br = toPx(INSET_AT.t1);
  const bt = toPy(INSET_AT.v1);
  const bb = toPy(INSET_AT.v0);
  const padL = 40;
  const padT = 6;
  const padR = 14;
  const padB = 24;
  return (
    <div style={{ position: 'absolute', left: bl - padL, top: bt - padT }}>
      <LineChart
        width={br - bl + padL + padR}
        height={bb - bt + padT + padB}
        margin={{ top: padT, right: padR, bottom: 0, left: 0 }}
      >
        <XAxis
          type="number"
          dataKey="t"
          domain={[Z0, Z1]}
          ticks={INSET_TICKS}
          interval={0}
          allowDataOverflow
          axisLine={false}
          tickLine={tickLine}
          tickSize={7}
          tickMargin={3}
          height={padB}
          tick={{ fontSize: 11, fill: INK, fontFamily: FONT }}
          tickFormatter={(t: number) => INSET_TICK_LABELS[INSET_TICKS.indexOf(t)] ?? ''}
        />
        <YAxis
          type="number"
          dataKey="v"
          domain={[0, ZMAX]}
          ticks={INSET_Y_TICKS}
          interval={0}
          allowDataOverflow
          axisLine={false}
          tickLine={tickLine}
          tickSize={7}
          tickMargin={5}
          width={padL}
          tick={{ fontSize: 11, fill: INK, fontFamily: FONT }}
        />
        <Line data={data.monthly} dataKey="v" stroke={ORANGE} strokeWidth={2.6} dot={false} isAnimationActive={false} />
        <Line data={data.annual} dataKey="v" type="monotone" stroke={BLUE} strokeWidth={5} dot={false} isAnimationActive={false} />
        <ReferenceArea x1={Z0} x2={Z1} y1={0} y2={ZMAX} fill="none" fillOpacity={0} stroke="#2b2b2b" strokeWidth={1.6} />
      </LineChart>
    </div>
  );
}

function Legend() {
  const rows = [
    { label: 'Monthly mean velocity', kind: 'orange' },
    { label: 'Annual mean velocity', kind: 'blue' },
    { label: 'Glacier velocity', kind: 'dot' },
  ];
  return (
    <div
      style={{
        position: 'absolute', left: 97, top: 50, width: 214, height: 72, boxSizing: 'border-box',
        border: '1px solid #d6d6d6', borderRadius: 4, background: 'rgba(255,255,255,0.9)',
        fontFamily: FONT, fontSize: 15.5, color: INK,
      }}
    >
      {rows.map((r, i) => (
        <div key={r.label} style={{ position: 'absolute', left: 0, top: 2 + i * 23, height: 22, display: 'flex', alignItems: 'center' }}>
          <svg width={50} height={22} style={{ display: 'block' }}>
            {r.kind === 'dot' ? (
              <circle cx={22} cy={11} r={2.9} fill={GRAY} />
            ) : (
              <line x1={6} x2={40} y1={11} y2={11} stroke={r.kind === 'orange' ? ORANGE : BLUE} strokeWidth={r.kind === 'orange' ? 2.6 : 4} />
            )}
          </svg>
          <span style={{ whiteSpace: 'nowrap' }}>{r.label}</span>
        </div>
      ))}
    </div>
  );
}

function Panel({ p }: { p: any }) {
  return (
    <div style={{ position: 'absolute', left: p.left, top: p.top, width: W, height: H }}>
      <Layer axes>
        <Scatter data={p.glacier} dataKey="v" fill={GRAY} shape={renderDot} isAnimationActive={false} />
      </Layer>
      <Layer>
        <Line
          data={p.monthly}
          dataKey="v"
          stroke={ORANGE}
          strokeWidth={2.4}
          dot={{ r: 1.8, fill: ORANGE, stroke: 'none' }}
          connectNulls={false}
          isAnimationActive={false}
        />
      </Layer>
      <Layer>
        <Line
          data={p.annual}
          dataKey="v"
          type={p.smooth ? 'monotone' : 'linear'}
          stroke={BLUE}
          strokeWidth={4}
          strokeLinejoin="round"
          dot={false}
          isAnimationActive={false}
        />
      </Layer>
      <Layer>
        {p.dashes.map((d: number[], i: number) => (
          <Line
            key={`dash-${i}`}
            data={[{ t: d[0], v: d[1] }, { t: d[2], v: d[3] }]}
            dataKey="v"
            stroke="#111"
            strokeWidth={4.2}
            strokeDasharray="15 8"
            dot={false}
            isAnimationActive={false}
          />
        ))}
        {p.trends.map((d: number[], i: number) => (
          <Line
            key={`trend-${i}`}
            data={[{ t: d[0], v: d[1] }, { t: d[2], v: d[3] }]}
            dataKey="v"
            stroke="#111"
            strokeWidth={2.6}
            strokeDasharray="8 4"
            dot={false}
            isAnimationActive={false}
          />
        ))}
      </Layer>
      <Layer>
        {p.breaks.length > 0 && (
          <Scatter data={pts(p.breaks)} dataKey="v" fill="#111" shape={renderSquare} isAnimationActive={false} />
        )}
        {p.inset && (
          <ReferenceArea x1={Z0} x2={Z1} y1={0} y2={ZMAX} fill="none" fillOpacity={0} stroke="#333" strokeWidth={1} />
        )}
        {p.inset && (
          <ReferenceLine segment={[{ x: INSET_AT.t0, y: INSET_AT.v0 }, { x: Z0, y: 0 }]} stroke="#1a1a1a" strokeWidth={1} />
        )}
        {p.inset && (
          <ReferenceLine segment={[{ x: INSET_AT.t1, y: INSET_AT.v1 }, { x: Z1, y: ZMAX }]} stroke="#1a1a1a" strokeWidth={1} />
        )}
        {p.notes.map((n: any, i: number) => (
          <ReferenceLine
            key={`arrow-${i}`}
            segment={[{ x: n.from[0], y: n.from[1] }, { x: n.to[0], y: n.to[1] }]}
            stroke="#111"
            strokeWidth={1.1}
          />
        ))}
        {p.notes.map((n: any, i: number) => (
          <ReferenceDot
            key={`note-${i}`}
            x={n.at[0]}
            y={n.at[1]}
            r={0}
            shape={(s: any) => (
              <text x={s.cx} y={s.cy} textAnchor="middle" dominantBaseline="central" fontFamily={FONT} fontSize={21} fill="#333">
                {n.text}
              </text>
            )}
          />
        ))}
        <ReferenceArea x1={X0} x2={X1} y1={0} y2={YMAX} fill="none" fillOpacity={0} stroke="#2b2b2b" strokeWidth={1.6} />
      </Layer>
      {p.inset && <Inset data={p.inset} />}
      {p.legend && <Legend />}
      <div
        style={{
          position: 'absolute', left: PL - 60, width: PR - PL + 120, top: 5, textAlign: 'center',
          fontFamily: FONT, fontWeight: 'bold', fontSize: 24, letterSpacing: 0.6, color: INK,
          whiteSpace: 'nowrap', lineHeight: '30px',
        }}
      >
        {p.title}
      </div>
      {p.yLabel && (
        <div
          style={{
            position: 'absolute', left: 23 - 150, top: (PT + PB) / 2 - 12, width: 300, height: 24,
            textAlign: 'center', lineHeight: '24px', transform: 'rotate(-90deg)',
            fontFamily: FONT, fontSize: 19, color: INK, whiteSpace: 'nowrap',
          }}
        >
          Glacier velocity / (m/yr)
        </div>
      )}
    </div>
  );
}

export default function App() {
  return (
    <div style={{ position: 'absolute', left: 0, top: 0, width: 903, height: 702, background: '#fff', overflow: 'hidden' }}>
      {PANELS.map((p) => (
        <Panel key={p.key} p={p} />
      ))}
    </div>
  );
}
